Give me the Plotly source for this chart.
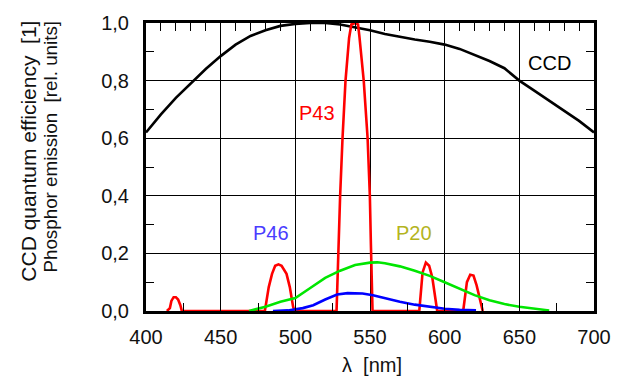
import plotly.graph_objects as go

# CCD quantum efficiency
ccd_nm = [400, 410, 420, 430, 440, 450, 460, 470, 480, 490, 500, 510, 520, 530, 540,
          550, 560, 570, 580, 590, 600, 610, 620, 630, 640, 650, 660, 670, 680, 690, 700]
ccd_qe = [0.62, 0.683, 0.74, 0.79, 0.84, 0.885, 0.925, 0.955, 0.975, 0.99, 0.997, 1.0, 1.0,
          0.995, 0.985, 0.975, 0.962, 0.952, 0.943, 0.935, 0.925, 0.91, 0.89, 0.868, 0.843,
          0.80, 0.765, 0.73, 0.695, 0.66, 0.62]

# P43 phosphor emission (line spectrum)
p43_nm = [414, 416, 417, 418.5, 420, 421.5, 423, 424,
          479.6, 482.2, 484.4, 486.5, 488.7, 490.8, 494.1, 496.3, 498.5, 499.5,
          527.6, 528.8, 530, 531.6, 533.6, 536, 537.5, 540, 542, 543, 545.8, 548.4, 549.9, 550.6, 551.7,
          583, 584.1, 585.2, 587.4, 589.6, 591.7, 593.2, 595,
          612.4, 613.4, 614.9, 617.1, 619.3, 621.4, 623.6, 625.5]
p43_em = [0, 0.01, 0.035, 0.048, 0.048, 0.04, 0.02, 0,
          0, 0.083, 0.129, 0.157, 0.162, 0.157, 0.129, 0.083, 0.015, 0,
          0, 0.231, 0.40, 0.60, 0.80, 0.948, 0.995, 1.0, 0.995, 0.948, 0.80, 0.60, 0.40, 0.231, 0,
          0, 0.072, 0.134, 0.168, 0.157, 0.117, 0.06, 0,
          0, 0.049, 0.10, 0.126, 0.123, 0.089, 0.038, 0]

# P20 phosphor emission
p20_nm = [469, 480, 490, 500, 510, 520, 530, 540, 550, 555, 560, 570, 580, 590, 600,
          610, 620, 630, 640, 650, 660, 670]
p20_em = [0, 0.015, 0.032, 0.045, 0.08, 0.115, 0.14, 0.16, 0.168, 0.169, 0.166, 0.155,
          0.14, 0.122, 0.10, 0.077, 0.055, 0.037, 0.024, 0.015, 0.008, 0.002]

# P46 phosphor emission
p46_nm = [485, 495, 505, 512, 520, 528, 535, 545, 552, 560, 570, 580, 590, 600, 610, 621]
p46_em = [0, 0.002, 0.01, 0.02, 0.04, 0.057, 0.062, 0.061, 0.055, 0.044, 0.032, 0.022,
          0.014, 0.008, 0.004, 0.002]

# curve labels: text, wavelength, value, colour
labels = [("CCD", 670.5, 0.861, "black"),
          ("P43", 514.5, 0.686, "#ff0000"),
          ("P46", 483.5, 0.27, "#4a3cff"),
          ("P20", 579.5, 0.27, "#b4b41e")]

FONT = "Liberation Sans, Arial, sans-serif"
FS = 20

fig = go.Figure()
fig.add_trace(go.Scatter(x=ccd_nm, y=ccd_qe, mode="lines", line=dict(color="black", width=2.6)))
fig.add_trace(go.Scatter(x=p43_nm, y=p43_em, mode="lines", line=dict(color="#ff0000", width=2.6)))
fig.add_trace(go.Scatter(x=p20_nm, y=p20_em, mode="lines", line=dict(color="#00e600", width=2.6)))
fig.add_trace(go.Scatter(x=p46_nm, y=p46_em, mode="lines", line=dict(color="#0000ff", width=2.6)))
# carrier for the top axis with 10 nm ticks
fig.add_trace(go.Scatter(x=[400, 700], y=[None, None], xaxis="x2", mode="lines",
                         hoverinfo="skip", showlegend=False))

for text, x, y, color in labels:
    fig.add_annotation(x=x, y=y, xref="x", yref="y", text=text, showarrow=False,
                       font=dict(family=FONT, size=FS, color=color))

# y-axis title, two lines aligned at their ends
fig.add_annotation(x=-0.263, y=1.014, xref="paper", yref="paper", xanchor="center", yanchor="top",
                   text="CCD quantum efficiency\u00a0\u00a0[1]", textangle=-90, showarrow=False,
                   font=dict(family=FONT, size=21, color="#111"))
fig.add_annotation(x=-0.213, y=1.014, xref="paper", yref="paper", xanchor="center", yanchor="top",
                   text="Phosphor emission\u00a0\u00a0[rel. units]", textangle=-90, showarrow=False,
                   font=dict(family=FONT, size=18.8, color="#111"))
fig.add_annotation(x=0.505, y=-0.188, xref="paper", yref="paper", xanchor="center", yanchor="middle",
                   text="\u03bb\u00a0\u00a0[nm]", showarrow=False,
                   font=dict(family=FONT, size=FS, color="#111"))

tickfont = dict(family=FONT, size=FS, color="#111")
tick_style = dict(ticklen=8, tickwidth=1, tickcolor="black")
fig.update_layout(
    width=623, height=378,
    margin=dict(l=146, r=17, t=19, b=67),
    paper_bgcolor="white", plot_bgcolor="white",
    showlegend=False,
    separators=",.",
    xaxis=dict(range=[400, 700], tick0=400, dtick=50, tickformat="d",
               showgrid=True, gridcolor="black", gridwidth=1, zeroline=False,
               showline=True, linecolor="black", linewidth=3, mirror=True,
               ticks="inside", **tick_style, tickfont=tickfont, ticklabelstandoff=6,
               minor=dict(ticks="inside", dtick=25, showgrid=False, **tick_style)),
    xaxis2=dict(range=[400, 700], overlaying="x", side="top", showticklabels=False,
                showgrid=False, zeroline=False, showline=False,
                ticks="inside", tick0=400, dtick=10, **tick_style),
    yaxis=dict(range=[0, 1], tick0=0, dtick=0.2, tickformat=".1f",
               showgrid=True, gridcolor="black", gridwidth=1, zeroline=False,
               showline=True, linecolor="black", linewidth=3, mirror="ticks",
               ticks="inside", **tick_style, tickfont=tickfont, ticklabelstandoff=10,
               minor=dict(ticks="inside", dtick=0.1, showgrid=False, **tick_style)),
)

fig.write_html("out.html")
